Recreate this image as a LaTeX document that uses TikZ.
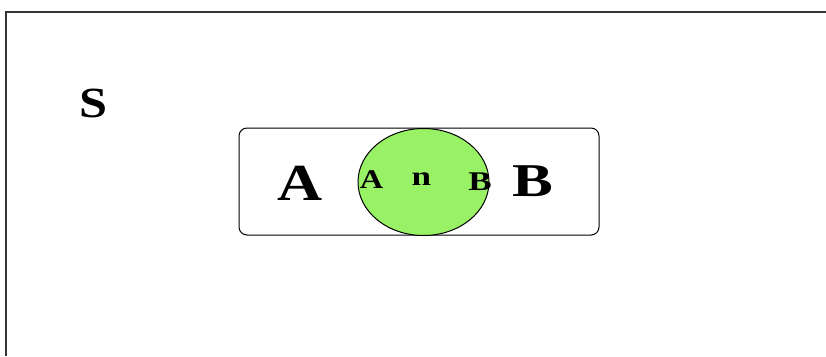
\documentclass[tikz,border=0pt]{standalone}
\usepackage{fontspec}
\usepackage{graphicx}
\usetikzlibrary{shapes.geometric}
\setmainfont{Liberation Serif}
\definecolor{vgreen}{HTML}{99F266}
\definecolor{frameg}{HTML}{333333}
\newcommand{\wide}[2]{\scalebox{#1}[1]{#2}}
\tikzset{
  lbl/.style={anchor=base,inner sep=0pt},
  setbox/.style={draw=black,line width=1pt,rounded corners=8pt},
  inter/.style={draw=black,line width=1pt,fill=vgreen}
}
\begin{document}
\begin{tikzpicture}[x=1pt,y=-1pt]
\useasboundingbox (0,0) rectangle (826,356);
\draw[frameg,line width=1.5pt] (6,356) -- (6,12) -- (826,12);
\node[setbox,minimum width=360pt,minimum height=107pt] (rect) at (419,181.5) {};
\node[inter,ellipse,minimum width=131pt,minimum height=107pt,inner sep=0pt] (ell) at (423.5,182) {};
\node[lbl,font=\bfseries\fontsize{43}{43}\selectfont] (S) at (93,117) {\wide{1.17}{S}};
\node[lbl,font=\bfseries\fontsize{52}{52}\selectfont] (A) at (300,200) {\wide{1.2}{A}};
\node[lbl,font=\bfseries\fontsize{27}{27}\selectfont] (a) at (371.5,188) {\wide{1.2}{A}};
\node[lbl,font=\bfseries\fontsize{27}{27}\selectfont] (n) at (421.5,185) {\wide{1.3}{n}};
\node[lbl,font=\bfseries\fontsize{27}{27}\selectfont] (b) at (480,190) {\wide{1.3}{B}};
\node[lbl,font=\bfseries\fontsize{47}{47}\selectfont] (B) at (533,196) {\wide{1.3}{B}};
\end{tikzpicture}
\end{document}
